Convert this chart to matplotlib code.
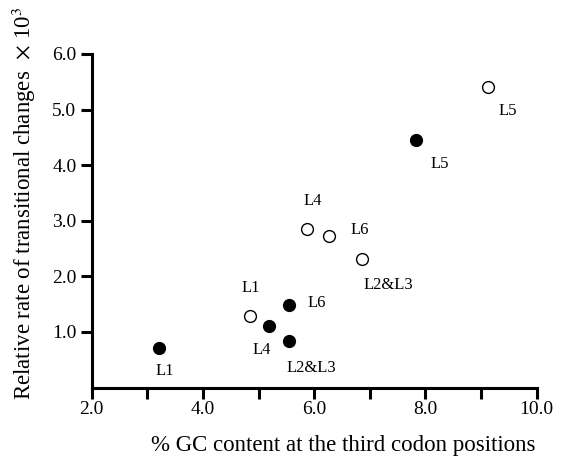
import matplotlib
matplotlib.use("Agg")
import matplotlib.pyplot as plt

# Data
open_x = [9.12, 5.87, 6.26, 6.86, 4.84]
open_y = [5.41, 2.85, 2.73, 2.31, 1.28]
open_labels = ["L5", "L4", "L6", "L2&L3", "L1"]
open_label_x = [9.48, 5.97, 6.81, 7.33, 4.86]
open_label_y = [4.97, 3.36, 2.83, 1.85, 1.79]

filled_x = [7.83, 5.55, 5.18, 5.54, 3.21]
filled_y = [4.46, 1.49, 1.10, 0.83, 0.72]
filled_labels = ["L5", "L6", "L4", "L2&L3", "L1"]
filled_label_x = [8.26, 6.05, 5.05, 5.94, 3.32]
filled_label_y = [4.02, 1.53, 0.68, 0.35, 0.30]

x_ticks = [2.0, 4.0, 6.0, 8.0, 10.0]
x_minor = [3.0, 5.0, 7.0, 9.0]
y_ticks = [1.0, 2.0, 3.0, 4.0, 5.0, 6.0]

plt.rcParams['font.family'] = ['Liberation Serif', 'DejaVu Serif']
plt.rcParams['mathtext.fontset'] = 'stix'

fig = plt.figure(figsize=(5.61, 4.59), dpi=100)
ax = fig.add_axes([0.1635, 0.1556, 0.7932, 0.7268])

ax.plot(open_x, open_y, 'o', markersize=8.5, markerfacecolor='white',
        markeredgecolor='black', markeredgewidth=1.0, linestyle='none')
ax.plot(filled_x, filled_y, 'o', markersize=8.5, markerfacecolor='black',
        markeredgecolor='black', linestyle='none')

for t, lx, ly in zip(open_labels, open_label_x, open_label_y):
    ax.text(lx, ly, t, ha='center', va='center', fontsize=12)
for t, lx, ly in zip(filled_labels, filled_label_x, filled_label_y):
    ax.text(lx, ly, t, ha='center', va='center', fontsize=12)

ax.set_xlim(2.0, 10.0)
ax.set_ylim(0.0, 6.0)
ax.set_xticks(x_ticks)
ax.set_xticklabels([f"{v:.1f}" for v in x_ticks])
ax.set_xticks(x_minor, minor=True)
ax.set_yticks(y_ticks)
ax.set_yticklabels([f"{v:.1f}" for v in y_ticks])

for s in ['top', 'right']:
    ax.spines[s].set_visible(False)
for s in ['left', 'bottom']:
    ax.spines[s].set_linewidth(2.2)

ax.tick_params(axis='both', which='both', direction='out', length=8, width=2.2,
               labelsize=14, pad=2)
ax.tick_params(axis='y', pad=3)

fig.text(343 / 561, 1 - 445 / 459, "% GC content at the third codon positions",
         ha='center', va='center', fontsize=16.5)
fig.text(24 / 561, 1 - 203 / 459,
         r"Relative rate of transitional changes $\,\times\,$10$^3$",
         ha='center', va='center', rotation=90, fontsize=16.5)

fig.savefig("out.png", dpi=100)
